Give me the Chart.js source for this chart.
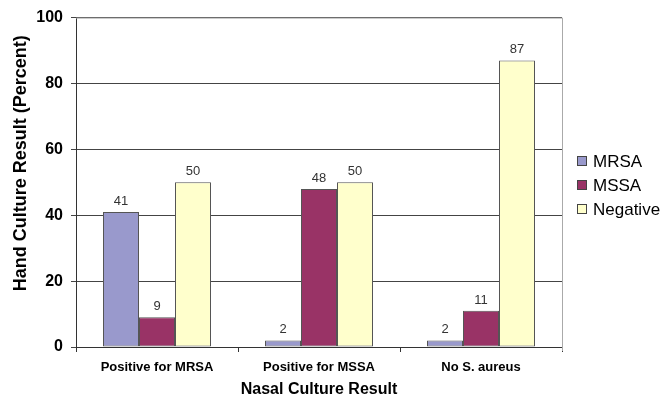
<!DOCTYPE html>
<html>
<head>
<meta charset="utf-8">
<script src="https://cdn.jsdelivr.net/npm/chart.js@4/dist/chart.umd.min.js"></script>
<style>
  html, body { margin: 0; padding: 0; background: #fff; }
  #wrap { width: 661px; height: 400px; }
</style>
</head>
<body>
<div id="wrap"><canvas id="c"></canvas></div>
<script>
const categories = ['Positive for MRSA', 'Positive for MSSA', 'No S. aureus'];
const mrsa = [41, 2, 2];
const mssa = [9, 48, 11];
const negative = [50, 50, 87];
const yTicks = [0, 20, 40, 60, 80, 100];
const xTitle = 'Nasal Culture Result';
const yTitle = 'Hand Culture Result (Percent)';

const FONT = '"Liberation Sans", Arial, Helvetica, sans-serif';
Chart.defaults.font.family = FONT;
Chart.defaults.color = '#000';

// value labels above each bar
const valueLabels = {
  id: 'valueLabels',
  afterDatasetsDraw(chart) {
    const ctx = chart.ctx;
    ctx.save();
    ctx.font = '13px ' + FONT;
    ctx.fillStyle = '#333';
    ctx.textAlign = 'center';
    ctx.textBaseline = 'alphabetic';
    chart.data.datasets.forEach((ds, i) => {
      chart.getDatasetMeta(i).data.forEach((bar, j) => {
        ctx.fillText(String(ds.data[j]), bar.x, bar.y - 7);
      });
    });
    ctx.restore();
  }
};

// light frame on the top and right of the plot area, vertical axis title and series key
const frameTitleKey = {
  id: 'frameTitleKey',
  beforeDatasetsDraw(chart) {
    const { ctx, chartArea: a } = chart;
    ctx.save();
    ctx.strokeStyle = '#aaa';
    ctx.lineWidth = 1;
    ctx.beginPath();
    ctx.moveTo(a.left, a.top + 0.5);
    ctx.lineTo(a.right + 0.5, a.top + 0.5);
    ctx.lineTo(a.right + 0.5, a.bottom + 4);
    ctx.stroke();
    ctx.restore();
  },
  afterDraw(chart) {
    const { ctx, chartArea: a } = chart;
    ctx.save();
    ctx.font = 'bold 18px ' + FONT;
    ctx.fillStyle = '#000';
    ctx.textAlign = 'center';
    ctx.textBaseline = 'middle';
    ctx.translate(21, (a.top + a.bottom) / 2 - 19);
    ctx.rotate(-Math.PI / 2);
    ctx.fillText(yTitle, 0, 0);
    ctx.restore();

    // series key to the right of the plot
    const sets = chart.data.datasets;
    const rowGap = 24;
    const midY = (a.top + a.bottom) / 2 + 3;
    const boxX = a.right + 15;
    ctx.save();
    ctx.font = '17px ' + FONT;
    ctx.textAlign = 'left';
    ctx.textBaseline = 'middle';
    sets.forEach((ds, i) => {
      const cy = Math.round(midY + (i - (sets.length - 1) / 2) * rowGap);
      ctx.fillStyle = ds.backgroundColor;
      ctx.fillRect(boxX, cy - 5, 10, 10);
      ctx.strokeStyle = '#444';
      ctx.lineWidth = 1;
      ctx.strokeRect(boxX + 0.5, cy - 4.5, 9, 9);
      ctx.fillStyle = '#000';
      ctx.fillText(ds.label, boxX + 16, cy + 1);
    });
    ctx.restore();
  }
};

new Chart(document.getElementById('c'), {
  type: 'bar',
  data: {
    labels: categories,
    datasets: [
      { label: 'MRSA', data: mrsa, backgroundColor: '#9999CC' },
      { label: 'MSSA', data: mssa, backgroundColor: '#993366' },
      { label: 'Negative', data: negative, backgroundColor: '#FFFFCC' }
    ].map(d => Object.assign(d, {
      borderColor: '#555',
      borderWidth: 1,
      borderSkipped: false,
      barPercentage: 1,
      categoryPercentage: 2 / 3
    }))
  },
  options: {
    responsive: true,
    maintainAspectRatio: false,
    animation: false,
    devicePixelRatio: 1,
    layout: { padding: { top: 17, right: 99, left: 0, bottom: 0 } },
    plugins: {
      tooltip: { enabled: false },
      legend: { display: false }
    },
    scales: {
      x: {
        afterFit(s) { s.height = 53; },
        grid: {
          offset: true,
          drawOnChartArea: false,
          drawTicks: true,
          tickLength: 5,
          color: '#333'
        },
        border: { color: '#333', width: 1 },
        ticks: { padding: 8, font: { size: 13, weight: 'bold' }, color: '#000' },
        title: {
          display: true,
          text: xTitle,
          font: { size: 16, weight: 'bold' },
          color: '#000',
          padding: { top: 0, bottom: 1 }
        }
      },
      y: {
        min: 0,
        max: 100,
        afterFit(s) { s.width = 76; },
        afterBuildTicks(s) { s.ticks = yTicks.map(v => ({ value: v })); },
        grid: {
          color: c => (c.tick && c.tick.value === 100 && c.type !== 'tick') ? '#aaa' : '#444',
          tickLength: 5
        },
        border: { color: '#333', width: 1 },
        ticks: { padding: 8, font: { size: 16, weight: 'bold' }, color: '#000' }
      }
    }
  },
  plugins: [valueLabels, frameTitleKey]
});
</script>
</body>
</html>
